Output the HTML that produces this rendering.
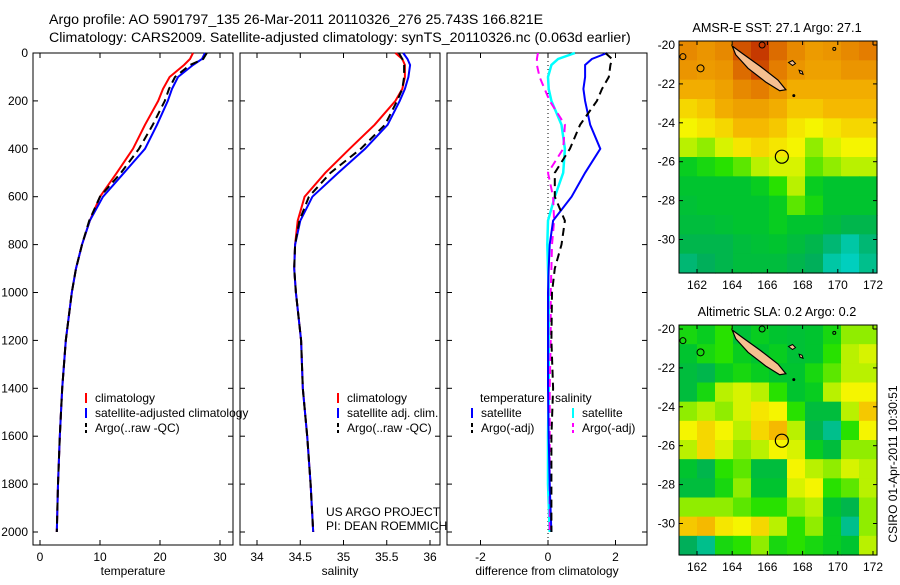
<!DOCTYPE html>
<html><head><meta charset="utf-8"><style>
body{margin:0;background:#fff;width:900px;height:580px;overflow:hidden}
svg{font-family:"Liberation Sans",sans-serif;font-size:12px}
</style></head><body>
<svg id="c" width="900" height="580"></svg>
<script>
// ---- data ----
const depths=[0,25,50,100,150,200,300,400,500,600,700,800,900,1000,1200,1400,1600,1800,2000];
const tempClim=[25.5,25,24,21.6,20.5,19.7,17.5,15.5,12.8,10,8.3,7,6,5.3,4.3,3.7,3.3,3,2.8];
const tempSat=[27.5,27,25.5,23,22,21.3,19.5,17.5,14,10.5,8.3,7,6,5.3,4.3,3.7,3.3,3,2.8];
const tempArgo=[27.8,27.2,25,22.5,21.5,20.8,18.8,16.5,13.5,10,8.2,7,6,5.3,4.3,3.7,3.3,3,2.8];
const salClim=[35.6,35.68,35.71,35.71,35.68,35.6,35.36,35.07,34.79,34.55,34.47,34.44,34.43,34.45,34.51,34.53,34.58,34.62,34.65];
const salSat=[35.69,35.74,35.77,35.75,35.71,35.65,35.51,35.25,34.94,34.64,34.5,34.44,34.43,34.45,34.51,34.53,34.58,34.62,34.65];
const salArgo=[35.64,35.68,35.7,35.7,35.68,35.62,35.48,35.2,34.85,34.6,34.49,34.44,34.43,34.45,34.51,34.53,34.58,34.62,34.65];
const dTempSat=[1.75,1.3,1.1,1.1,1.05,1.1,1.25,1.55,1.1,0.7,0.15,0.05,0.02,0,0,0,0.02,0.05,0.1];
const dTempArgo=[1.7,1.9,1.85,1.8,1.6,1.45,0.95,0.65,0.2,0.2,0.5,0.4,0.2,0.12,0.1,0.15,0.1,0.1,0.1];
const dSalSat=[0.8,0.3,0.1,0,0.02,0.1,0.4,0.5,0.45,0.2,0,-0.02,0,0.02,0.02,0.02,0,0,0.05];
const dSalArgo=[-0.3,-0.33,-0.33,-0.25,-0.1,0.05,0.5,0.45,0,0.15,0.18,0.12,0.1,0.08,0.08,0.05,0.05,0.05,0.05];
const depthTicks=[0,200,400,600,800,1000,1200,1400,1600,1800,2000];
const tempTicks=[0,10,20,30];
const salTicks=[34,34.5,35,35.5,36];
const salTickLabels=["34","34.5","35","35.5","36"];
const diffTicks=[-2,0,2];
const lonTicks=[162,164,166,168,170,172];
const latTicks=[-20,-22,-24,-26,-28,-30];
const sstGrid=[
[.78,.76,.78,.85,.88,.82,.78,.75,.76,.78,.80],
[.76,.75,.76,.82,.86,.80,.76,.74,.74,.76,.76],
[.72,.72,.74,.78,.80,.76,.72,.72,.72,.72,.72],
[.66,.68,.72,.74,.74,.72,.68,.68,.70,.70,.70],
[.62,.64,.66,.70,.70,.68,.64,.62,.64,.66,.66],
[.58,.56,.60,.64,.66,.64,.62,.56,.60,.62,.62],
[.48,.50,.52,.54,.58,.60,.60,.54,.56,.58,.58],
[.46,.46,.46,.46,.48,.52,.58,.48,.46,.46,.46],
[.45,.46,.46,.46,.46,.48,.54,.50,.46,.46,.46],
[.44,.44,.45,.46,.46,.48,.46,.46,.44,.42,.42],
[.42,.42,.42,.44,.45,.46,.44,.42,.38,.34,.38],
[.38,.40,.42,.44,.44,.44,.42,.40,.34,.32,.36]];
const slaGrid=[
[.50,.48,.52,.45,.48,.46,.45,.46,.50,.56,.56],
[.46,.50,.52,.48,.46,.48,.45,.46,.52,.58,.60],
[.44,.42,.48,.50,.48,.46,.46,.50,.54,.58,.58],
[.44,.50,.58,.60,.58,.52,.46,.48,.58,.62,.62],
[.56,.58,.56,.60,.64,.62,.52,.44,.44,.58,.68],
[.62,.66,.62,.58,.66,.70,.58,.42,.36,.52,.62],
[.58,.66,.60,.56,.58,.62,.60,.48,.44,.56,.56],
[.46,.42,.52,.54,.44,.44,.62,.58,.56,.60,.58],
[.44,.44,.50,.56,.46,.46,.60,.62,.52,.54,.58],
[.56,.56,.56,.54,.52,.52,.56,.58,.46,.42,.56],
[.68,.70,.64,.62,.66,.58,.52,.56,.48,.36,.56],
[.40,.36,.50,.52,.56,.50,.52,.50,.48,.46,.58]];

// ---- helpers ----
const S=document.getElementById('c');const NS='http://www.w3.org/2000/svg';
function mk(tag,at,parent){const e=document.createElementNS(NS,tag);for(const k in at)e.setAttribute(k,at[k]);(parent||S).appendChild(e);return e;}
function txt(x,y,s,anchor,parent){const t=mk('text',{x:x,y:y,'text-anchor':anchor||'start',fill:'#000'},parent);t.textContent=s;return t;}
const Y0=53,Y1=545;
const yP=p=>Y0+p*0.2395;
function panel(x0,x1,xs,ticks,labels,xlabel,name){
  const g=mk('g',{});
  
  
  mk('rect',{x:x0,y:Y0,width:x1-x0,height:Y1-Y0,fill:'none',stroke:'#000','stroke-width':1},g);
  ticks.forEach((v,i)=>{const x=xs(v);mk('line',{x1:x,x2:x,y1:Y1,y2:Y1-5,stroke:'#000'},g);mk('line',{x1:x,x2:x,y1:Y0,y2:Y0+5,stroke:'#000'},g);txt(x,Y1+16,labels[i],'middle',g);});
  depthTicks.forEach(p=>{mk('line',{x1:x0,x2:x0+5,y1:yP(p),y2:yP(p),stroke:'#000'},g);mk('line',{x1:x1,x2:x1-5,y1:yP(p),y2:yP(p),stroke:'#000'},g);});
  const xl=txt((x0+x1)/2,Y1+30,xlabel,'middle',g);
  
  
  return g;
}
function line(vals,xs,color,dash,name,g,w){
  const d=vals.map((v,i)=>(i?'L':'M')+xs(v).toFixed(1)+','+yP(depths[i]).toFixed(1)).join('');
  const p=mk('path',{d:d,fill:'none',stroke:color,'stroke-width':w||2,'stroke-dasharray':dash||'none'},g);
  
  
}
function legend(g,x,y,color,dash,label){
  mk('line',{x1:x,x2:x,y1:y-9,y2:y+1,stroke:color,'stroke-width':2,'stroke-dasharray':dash||'none'},g);
  const t=txt(x+9,y,label,'start',g);
  
  
}
// titles
const t1=txt(49,24,'Argo profile: AO 5901797_135 26-Mar-2011 20110326_276 25.743S 166.821E');


t1.setAttribute('font-size','14.2');
const t2=txt(49,42,'Climatology: CARS2009. Satellite-adjusted climatology: synTS_20110326.nc (0.063d earlier)');


t2.setAttribute('font-size','14.2');
// depth labels
depthTicks.forEach(p=>txt(28,yP(p)+4,String(p),'end'));

// panel 1
const xT=v=>40+v*6;
const g1=panel(33,233,xT,tempTicks,tempTicks.map(String),'temperature','temperature-panel');
line(tempClim,xT,'#f00',null,'temp-climatology-line',g1);
line(tempSat,xT,'#00f',null,'temp-satellite-line',g1);
line(tempArgo,xT,'#000','8,5','temp-argo-line',g1);
legend(g1,86,402,'#f00',null,'climatology');
legend(g1,86,417,'#00f',null,'satellite-adjusted climatology');
legend(g1,86,432,'#000','4,3','Argo(..raw -QC)');
// panel 2
const xS=v=>257+(v-34)*86.5;
const g2=panel(240,440,xS,salTicks,salTickLabels,'salinity','salinity-panel');
line(salClim,xS,'#f00',null,'sal-climatology-line',g2);
line(salSat,xS,'#00f',null,'sal-satellite-line',g2);
line(salArgo,xS,'#000','8,5','sal-argo-line',g2);
legend(g2,338,402,'#f00',null,'climatology');
legend(g2,338,417,'#00f',null,'satellite adj. clim.');
legend(g2,338,432,'#000','4,3','Argo(..raw -QC)');
txt(326,516,'US ARGO PROJECT',null,g2);
txt(326,530,'PI: DEAN ROEMMICH',null,g2);
// panel 3
const xD=v=>548+v*33.75;
const g3=panel(447,647,xD,diffTicks,diffTicks.map(String),'difference from climatology','difference-panel');
mk('line',{x1:548,x2:548,y1:Y0,y2:Y1,stroke:'#000','stroke-dasharray':'1,3'},g3);
line(dSalSat,xD,'#0ff',null,'sal-diff-satellite-line',g3,2.5);
line(dSalArgo,xD,'#f0f','8,5','sal-diff-argo-line',g3);
line(dTempSat,xD,'#00f',null,'temp-diff-satellite-line',g3);
line(dTempArgo,xD,'#000','8,5','temp-diff-argo-line',g3);
txt(480,402,'temperature',null,g3);txt(555,402,'salinity',null,g3);
legend(g3,472,417,'#00f',null,'satellite');
legend(g3,472,432,'#000','4,3','Argo(-adj)');
legend(g3,573,417,'#0ff',null,'satellite');
legend(g3,573,432,'#f0f','4,3','Argo(-adj)');

// maps
const stops=[[0,[0,0,200]],[.3,[0,215,215]],[.4,[0,175,90]],[.47,[0,200,40]],[.52,[40,225,0]],[.57,[170,240,0]],[.62,[245,245,0]],[.7,[245,185,0]],[.8,[228,125,0]],[.9,[190,40,0]],[1,[150,0,0]]];
function cmap(v){for(let i=1;i<stops.length;i++){if(v<=stops[i][0]){const a=stops[i-1],b=stops[i],t=(v-a[0])/(b[0]-a[0]);return 'rgb('+a[1].map((c,k)=>Math.round(c+(b[1][k]-c)*t)).join(',')+')';}}return 'rgb(150,0,0)';}
function map(top,bot,lat20,title,grid,name){
  const X0=679,X1=877;
  const lx=lon=>697+(lon-162)*17.6;
  const ly=lat=>lat20+(-20-lat)*19.45;
  const g=mk('g',{});
  
  
  const cw=(X1-X0)/grid[0].length,ch=(bot-top)/grid.length;
  grid.forEach((row,r)=>row.forEach((v,c)=>{
    const cell=mk('rect',{x:X0+c*cw,y:top+r*ch,width:cw+0.6,height:ch+0.6,fill:cmap(v)},g);
    
    
  }));
  // island
  const isl=mk('path',{d:`M${lx(164)},${ly(-20.05)} L${lx(164.6)},${ly(-20.45)} L${lx(165.6)},${ly(-21.1)} L${lx(166.6)},${ly(-21.8)} L${lx(167.05)},${ly(-22.3)} L${lx(166.7)},${ly(-22.35)} L${lx(165.9)},${ly(-21.9)} L${lx(164.9)},${ly(-21.2)} L${lx(164.2)},${ly(-20.5)} Z`,fill:'#f6c090',stroke:'#000','stroke-width':1.2},g);
  
  
  mk('path',{d:`M${lx(167.2)},${ly(-20.9)} l4,-2 l3,3 l-3,2 z M${lx(167.8)},${ly(-21.3)} l3,1 l1,3 l-3,-1 z`,fill:'#f6c090',stroke:'#000'},g);
  mk('circle',{cx:lx(165.7),cy:ly(-20),r:3,fill:'none',stroke:'#000'},g);
  mk('circle',{cx:lx(162.2),cy:ly(-21.2),r:3.5,fill:'none',stroke:'#000'},g);
  mk('circle',{cx:lx(161.2),cy:ly(-20.6),r:3,fill:'none',stroke:'#000'},g);
  mk('circle',{cx:lx(167.5),cy:ly(-22.6),r:1.5,fill:'#000'},g);
  mk('circle',{cx:lx(169.8),cy:ly(-20.2),r:1.5,fill:'none',stroke:'#000'},g);
  const argo=mk('circle',{cx:lx(166.821),cy:ly(-25.743),r:6.5,fill:'none',stroke:'#000','stroke-width':1.2},g);
  
  
  mk('rect',{x:X0,y:top,width:X1-X0,height:bot-top,fill:'none',stroke:'#000'},g);
  lonTicks.forEach(l=>{const x=lx(l);mk('line',{x1:x,x2:x,y1:bot,y2:bot-4,stroke:'#000'},g);mk('line',{x1:x,x2:x,y1:top,y2:top+4,stroke:'#000'},g);txt(x,bot+16,String(l),'middle',g);});
  latTicks.forEach(l=>{const y=ly(l);mk('line',{x1:X0,x2:X0+4,y1:y,y2:y,stroke:'#000'},g);mk('line',{x1:X1,x2:X1-4,y1:y,y2:y,stroke:'#000'},g);txt(X0-4,y+4,String(l),'end',g);});
  const tt=txt(777,top-9,title,'middle',g);
  
  
  tt.setAttribute('font-size','12.7');
}
map(41,273,45,'AMSR-E SST: 27.1 Argo: 27.1',sstGrid,'sst-map');
map(325,555,329,'Altimetric SLA: 0.2 Argo: 0.2',slaGrid,'sla-map');
const ts=txt(0,0,'CSIRO 01-Apr-2011 10:30:51','middle');
ts.setAttribute('transform','translate(897,464) rotate(-90)');


</script>
</body></html>
